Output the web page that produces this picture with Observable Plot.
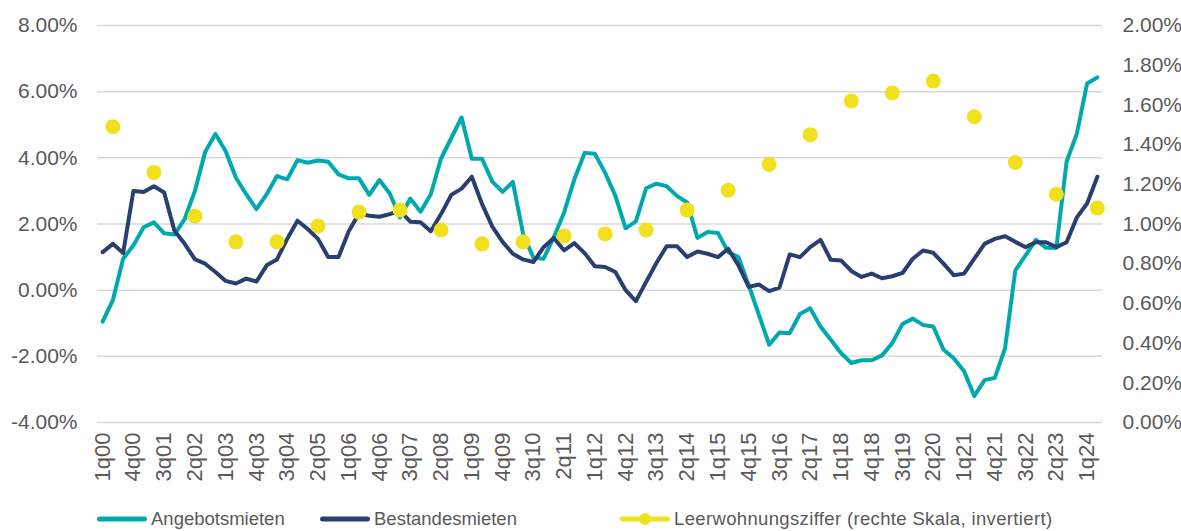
<!DOCTYPE html>
<html>
<head>
<meta charset="utf-8">
<script src="https://cdn.jsdelivr.net/npm/d3@7"></script>
<script src="https://cdn.jsdelivr.net/npm/@observablehq/plot@0.6"></script>
<style>
  html, body { margin: 0; padding: 0; background: #fff; }
  #wrap { width: 1181px; height: 531px; position: relative; overflow: hidden; font-family: "Liberation Sans", Arial, sans-serif; }
  #legend { position: relative; height: 31px; width: 1181px; color: #595959; font-size: 18.5px; }
  .item { position: absolute; top: 0; height: 38px; display: flex; align-items: center; white-space: nowrap; }
  .item svg { margin-right: 4px; }
</style>
</head>
<body>
<div id="wrap">
  <div id="chart"></div>
  <div id="legend"></div>
</div>
<script>
// ---- Data ----
const years = d3.range(2000, 2025);
const quarters = [];
for (const y of years) for (let q = 1; q <= 4; q++) quarters.push(q + "q" + String(y % 100).padStart(2, "0"));
const quarterLabels = quarters.slice(0, 98); // 1q00 .. 2q24

const xTickLabels = ["1q00","4q00","3q01","2q02","1q03","4q03","3q04","2q05","1q06","4q06","3q07","2q08","1q09","4q09","3q10","2q11","1q12","4q12","3q13","2q14","1q15","4q15","3q16","2q17","1q18","4q18","3q19","2q20","1q21","4q21","3q22","2q23","1q24"];

const angebotsmieten = [
  -0.95,-0.30,0.95,1.35,1.90,2.05,1.72,1.68,2.15,3.00,
  4.18,4.72,4.20,3.40,2.90,2.45,2.90,3.45,3.35,3.93,
  3.85,3.92,3.88,3.50,3.38,3.38,2.88,3.33,2.92,2.20,
  2.77,2.37,2.90,3.98,4.60,5.22,3.97,3.97,3.28,2.97,
  3.27,1.70,0.98,0.95,1.60,2.35,3.35,4.15,4.12,3.55,
  2.85,1.87,2.08,3.08,3.22,3.14,2.85,2.65,1.58,1.76,
  1.73,1.15,1.00,0.15,-0.75,-1.65,-1.28,-1.30,-0.72,-0.55,
  -1.10,-1.50,-1.90,-2.20,-2.12,-2.12,-1.97,-1.60,-1.02,-0.86,
  -1.05,-1.10,-1.80,-2.06,-2.45,-3.20,-2.72,-2.65,-1.75,0.60,
  1.05,1.52,1.28,1.28,3.88,4.73,6.25,6.43
];

const bestandesmieten = [
  1.15,1.40,1.12,3.00,2.97,3.14,2.95,1.80,1.40,0.93,
  0.80,0.55,0.28,0.20,0.35,0.26,0.75,0.93,1.55,2.10,
  1.85,1.55,1.00,1.00,1.78,2.32,2.25,2.22,2.30,2.40,
  2.07,2.05,1.78,2.30,2.88,3.07,3.43,2.60,1.92,1.46,
  1.10,0.93,0.85,1.30,1.58,1.20,1.42,1.12,0.72,0.70,
  0.55,0.00,-0.33,0.25,0.82,1.33,1.33,1.00,1.17,1.10,
  1.00,1.25,0.75,0.10,0.17,-0.03,0.08,1.08,1.00,1.30,
  1.52,0.92,0.90,0.58,0.40,0.50,0.36,0.42,0.52,0.95,
  1.20,1.13,0.80,0.45,0.50,0.95,1.40,1.55,1.63,1.46,
  1.30,1.45,1.45,1.30,1.45,2.20,2.62,3.43
];

// Leerwohnungsziffer (right axis), measured each 2nd quarter
const leerQuarters = years.map(y => "2q" + String(y % 100).padStart(2, "0"));
const leerwohnungsziffer = [1.49,1.26,1.04,0.91,0.91,0.99,1.06,1.07,0.97,0.90,0.91,0.94,0.95,0.97,1.07,1.17,1.30,1.45,1.62,1.66,1.72,1.54,1.31,1.15,1.08];

const leftTicks = [-4, -2, 0, 2, 4, 6, 8];
const rightTicks = [0, 0.2, 0.4, 0.6, 0.8, 1.0, 1.2, 1.4, 1.6, 1.8, 2.0];

// ---- Styles ----
const TEAL = "#00a9ad", NAVY = "#283f6f", YELLOW = "#f0e01e", GRID = "#d9d9d9", TEXT = "#595959";
const leftDomain = [-4, 8], rightDomain = [0, 2];
const toLeft = r => leftDomain[0] + (r - rightDomain[0]) * (leftDomain[1] - leftDomain[0]) / (rightDomain[1] - rightDomain[0]);
const toRight = v => rightDomain[0] + (v - leftDomain[0]) * (rightDomain[1] - rightDomain[0]) / (leftDomain[1] - leftDomain[0]);

const rows = quarterLabels.map((q, i) => ({q, angebot: angebotsmieten[i], bestand: bestandesmieten[i]}));
const leerRows = leerQuarters.map((q, i) => ({q, v: leerwohnungsziffer[i]}));

const chart = Plot.plot({
  width: 1181,
  height: 500,
  marginTop: 25,
  marginBottom: 78,
  marginLeft: 97,
  marginRight: 79,
  style: {fontFamily: "'Liberation Sans', Arial, sans-serif", fontSize: "21px", color: TEXT, background: "#fff"},
  x: {type: "point", domain: quarterLabels, padding: 0.5, round: false},
  y: {domain: leftDomain},
  marks: [
    Plot.ruleY(leftTicks, {stroke: GRID, strokeWidth: 1.5}),
    Plot.axisX(xTickLabels, {tickSize: 0, tickPadding: 10, tickRotate: -90, fill: TEXT, fontSize: 22, label: null}),
    Plot.axisY(leftTicks, {anchor: "left", tickSize: 0, tickPadding: 20, tickFormat: d => d.toFixed(2) + "%", fill: TEXT, fontSize: 21, label: null}),
    Plot.axisY(rightTicks.map(toLeft), {anchor: "right", tickSize: 0, tickPadding: 20, tickFormat: v => toRight(v).toFixed(2) + "%", fill: TEXT, fontSize: 21, label: null}),
    Plot.line(rows, {x: "q", y: "angebot", stroke: TEAL, strokeWidth: 4, strokeLinejoin: "round", strokeLinecap: "round"}),
    Plot.line(rows, {x: "q", y: "bestand", stroke: NAVY, strokeWidth: 4, strokeLinejoin: "round", strokeLinecap: "round"}),
    Plot.dot(leerRows, {x: "q", y: d => toLeft(d.v), r: 7.5, fill: YELLOW, stroke: "none"})
  ]
});
document.getElementById("chart").appendChild(chart);

// ---- Legend ----
const legendItems = [
  {label: "Angebotsmieten", color: TEAL, dot: false, left: 97, spacing: 0},
  {label: "Bestandesmieten", color: NAVY, dot: false, left: 320, spacing: 0},
  {label: "Leerwohnungsziffer (rechte Skala, invertiert)", color: YELLOW, dot: true, left: 620, spacing: 0.35}
];
const legend = d3.select("#legend");
for (const it of legendItems) {
  const item = legend.append("div").attr("class", "item").style("left", it.left + "px");
  const s = item.append("svg").attr("width", 50).attr("height", 16);
  s.append("line").attr("x1", 2.5).attr("x2", 47.5).attr("y1", 8).attr("y2", 8)
    .attr("stroke", it.color).attr("stroke-width", 5).attr("stroke-linecap", "round");
  if (it.dot) s.append("circle").attr("cx", 25).attr("cy", 8).attr("r", 6).attr("fill", it.color);
  item.append("span").style("letter-spacing", it.spacing + "px").text(it.label);
}
</script>
</body>
</html>
